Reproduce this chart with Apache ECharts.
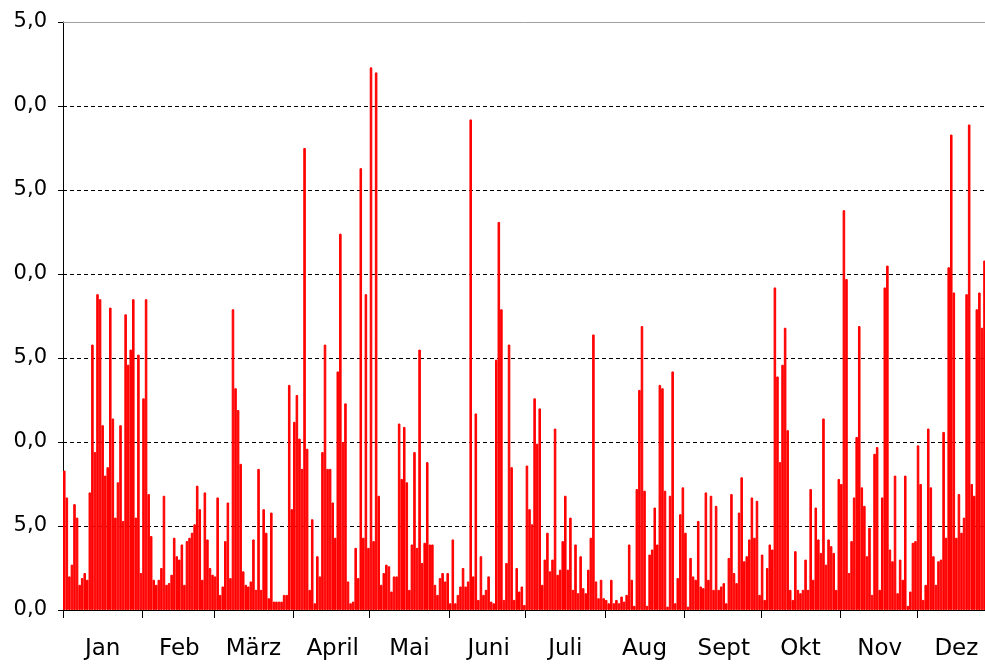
<!DOCTYPE html>
<html>
<head>
<meta charset="utf-8">
<script src="https://cdn.jsdelivr.net/npm/echarts@6/dist/echarts.min.js"></script>
<style>
  html, body { margin: 0; padding: 0; background: #fff; }
  #chart { width: 985px; height: 666px; }
</style>
</head>
<body>
<div id="chart"></div>
<script>
// daily values per month
const jan = [8.3, 6.7, 2.0, 2.7, 6.3, 5.5, 1.5, 1.9, 2.2, 1.8, 7.0, 15.8, 9.4, 18.8, 18.5, 11.0, 8.0, 8.5, 18.0, 11.4, 5.5, 7.6, 11.0, 5.3, 17.6, 14.6, 15.5, 18.5, 5.5, 15.2, 2.2];
const feb = [12.6, 18.5, 6.9, 4.4, 1.8, 1.5, 1.8, 2.5, 6.8, 1.5, 1.6, 2.1, 4.3, 3.2, 3.0, 3.9, 1.5, 4.1, 4.3, 4.6, 5.1, 7.4, 6.0, 1.8, 7.0, 4.2, 2.5, 2.1];
const mar = [2.0, 6.7, 0.9, 1.4, 4.1, 6.4, 1.9, 17.9, 13.2, 11.9, 8.7, 2.3, 1.5, 1.4, 1.7, 4.2, 1.2, 8.4, 1.2, 6.0, 4.6, 0.7, 5.8, 0.5, 0.5, 0.5, 0.5, 0.9, 0.9, 13.4, 6.0];
const apr = [11.2, 12.8, 10.2, 8.4, 27.5, 9.6, 1.2, 5.4, 0.4, 3.2, 2.0, 9.4, 15.8, 8.4, 8.4, 6.4, 4.3, 14.2, 22.4, 10.0, 12.3, 1.7, 0.4, 0.5, 3.7, 1.9, 26.3, 4.3, 18.8, 3.7];
const mai = [32.3, 4.1, 32.0, 6.8, 1.5, 2.2, 2.7, 2.6, 1.1, 2.0, 2.0, 11.1, 7.8, 10.9, 7.6, 1.2, 3.9, 9.4, 3.7, 15.5, 2.8, 4.0, 8.8, 3.9, 3.9, 1.5, 0.9, 1.9, 2.2, 1.7, 2.2];
const jun = [0.4, 4.2, 0.4, 0.9, 1.4, 2.5, 1.4, 1.7, 29.2, 2.0, 11.7, 0.6, 3.2, 0.9, 1.2, 2.0, 0.5, 0.4, 14.9, 23.1, 17.9, 0.6, 2.8, 15.8, 8.5, 0.6, 2.5, 1.1, 1.4, 0.3];
const jul = [8.6, 6.0, 5.1, 12.6, 9.9, 12.0, 1.5, 3.0, 4.6, 2.3, 3.0, 10.8, 2.1, 2.4, 4.1, 6.8, 2.4, 5.5, 1.2, 3.9, 1.0, 3.2, 1.3, 1.0, 2.4, 4.3, 16.4, 1.7, 0.7, 1.8, 0.7];
const aug = [0.6, 0.4, 1.8, 0.4, 0.6, 0.4, 0.8, 0.5, 0.9, 3.9, 1.8, 0.25, 7.2, 13.1, 16.9, 7.1, 0.25, 3.3, 3.6, 6.1, 3.9, 13.4, 13.2, 7.1, 0.2, 6.8, 14.2, 0.4, 1.9, 5.7, 7.3];
const sep = [4.6, 0.2, 3.1, 2.0, 1.8, 5.3, 1.4, 1.3, 7.0, 1.8, 6.8, 1.2, 6.2, 1.2, 1.4, 1.6, 0.4, 3.1, 6.9, 2.2, 1.6, 5.8, 7.9, 2.9, 3.2, 4.2, 6.7, 4.3, 6.5, 0.9];
const okt = [3.3, 0.6, 2.5, 3.9, 3.6, 19.2, 13.9, 8.8, 14.6, 16.8, 10.7, 1.2, 0.6, 3.5, 1.2, 1.0, 1.2, 3.0, 1.2, 7.2, 1.8, 6.1, 4.2, 3.4, 11.4, 2.7, 4.2, 3.8, 3.4, 1.2, 7.8];
const nov = [7.5, 23.8, 19.7, 2.2, 4.1, 6.7, 10.3, 16.9, 7.3, 6.2, 3.2, 4.9, 0.9, 9.3, 9.7, 1.2, 6.7, 19.2, 20.5, 3.6, 2.9, 8.0, 1.0, 3.0, 1.8, 8.0, 0.25, 1.1, 4.0, 4.1];
// last days of December lie outside the picture
const dez = [9.8, 7.5, 0.6, 1.5, 10.8, 7.3, 3.2, 1.5, 2.9, 3.0, 10.6, 4.3, 20.4, 28.3, 18.9, 4.3, 6.9, 4.6, 5.5, 18.8, 28.9, 7.5, 6.8, 17.9, 18.9, 16.8, 20.8, null, null, null, null];

const monthNames = ['Jan', 'Feb', 'März', 'April', 'Mai', 'Juni', 'Juli', 'Aug', 'Sept', 'Okt', 'Nov', 'Dez'];
// y labels as they appear (leading digits cut off)
const yLabels = ['0,0', '5,0', '0,0', '5,0', '0,0', '5,0', '0,0', '5,0'];

const months = [jan, feb, mar, apr, mai, jun, jul, aug, sep, okt, nov, dez];
const values = [];
const days = [];
const monthStart = {};
const monthMid = {};
months.forEach(function (m, i) {
    monthStart[values.length] = true;
    monthMid[values.length + Math.floor(m.length / 2)] = monthNames[i];
    m.forEach(function (v) {
        days.push(String(values.length + 1));
        values.push(v);
    });
});

const chart = echarts.init(document.getElementById('chart'));
const font = 'DejaVu Sans';

const option = {
    animation: false,
    backgroundColor: '#ffffff',
    // plot runs past the right edge, the picture is cut there
    grid: { left: 63, top: 22, width: 933, height: 588, outerBoundsMode: 'none' },
    xAxis: [
        {
            type: 'category',
            data: days,
            boundaryGap: true,
            axisLine: { lineStyle: { color: '#000', width: 1 } },
            axisTick: {
                show: true,
                length: 8,
                interval: function (idx) { return !!monthStart[idx]; },
                lineStyle: { color: '#000' }
            },
            axisLabel: {
                interval: function (idx) { return monthMid[idx] !== undefined; },
                formatter: function (val, idx) { return monthMid[idx] || ''; },
                margin: 28,
                fontFamily: font,
                fontSize: 23,
                color: '#000'
            },
            splitLine: { show: false }
        },
        {
            type: 'category',
            data: days,
            position: 'top',
            axisLine: { lineStyle: { color: '#a0a0a0', width: 1 } },
            axisTick: { show: false },
            axisLabel: { show: false },
            splitLine: { show: false }
        }
    ],
    yAxis: {
        type: 'value',
        min: 0,
        max: 35,
        interval: 5,
        axisLine: { show: true, lineStyle: { color: '#000' } },
        axisTick: { show: true, length: 5, lineStyle: { color: '#000' } },
        axisLabel: {
            formatter: function (v) { return yLabels[Math.round(v / 5)]; },
            margin: 16,
            fontFamily: font,
            fontSize: 21,
            color: '#000'
        },
        splitLine: {
            show: true,
            lineStyle: {
                color: ['#000', '#000', '#000', '#000', '#000', '#000', '#000', 'rgba(0,0,0,0)'],
                type: [4, 3],
                width: 1
            }
        }
    },
    series: [
        {
            type: 'bar',
            data: values,
            xAxisIndex: 0,
            barCategoryGap: '0%',
            itemStyle: { color: '#ff0000', borderColor: '#ff0000', borderWidth: 1 }
        }
    ]
};

chart.setOption(option);
</script>
</body>
</html>
